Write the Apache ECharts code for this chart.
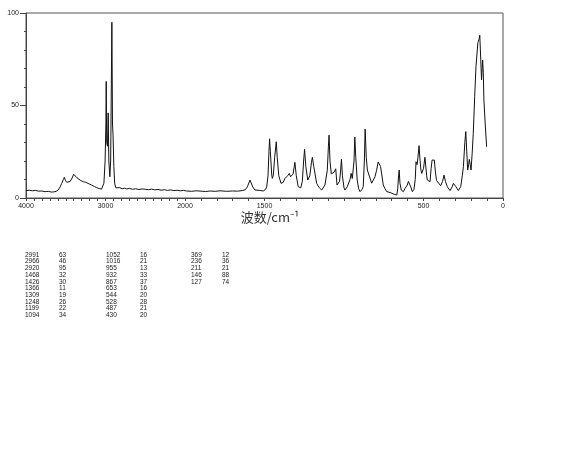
<!DOCTYPE html>
<html>
<head>
<meta charset="utf-8">
<script src="https://cdn.jsdelivr.net/npm/echarts@6/dist/echarts.min.js"></script>
<style>
  html, body { margin: 0; padding: 0; background: #fff; }
  #chart { width: 570px; height: 475px; }
</style>
</head>
<body>
<div id="chart"></div>
<script>
// spectrum: wavenumber (cm-1) and relative intensity
const specWn = [
  4000, 3960, 3920, 3880, 3840, 3800, 3760, 3720, 3680, 3650, 3620, 3594, 3570, 3551, 3530, 3518,
  3505, 3488, 3466, 3446, 3420, 3400, 3392, 3375, 3360, 3342, 3310, 3279, 3250, 3236, 3205, 3174,
  3140, 3111, 3080, 3050, 3035, 3020, 3005, 2995, 2991, 2985, 2975, 2966, 2958, 2945, 2935, 2920,
  2912, 2905, 2895, 2885, 2870, 2850, 2820, 2790, 2760, 2733, 2700, 2660, 2620, 2580, 2540, 2500,
  2460, 2420, 2380, 2340, 2300, 2260, 2220, 2180, 2140, 2100, 2060, 2020, 1990, 1960, 1930, 1900,
  1870, 1843, 1810, 1780, 1738, 1700, 1670, 1640, 1620, 1608, 1591, 1574, 1560, 1549, 1530, 1508,
  1495, 1486, 1478, 1472, 1468, 1463, 1455, 1451, 1445, 1436, 1426, 1420, 1410, 1396, 1382, 1372,
  1366, 1355, 1344, 1336, 1329, 1320, 1309, 1300, 1288, 1272, 1262, 1254, 1248, 1240, 1228, 1215,
  1205, 1199, 1190, 1172, 1155, 1140, 1120, 1105, 1098, 1094, 1088, 1080, 1072, 1062, 1052, 1044,
  1035, 1028, 1022, 1016, 1010, 1000, 994, 980, 973, 962, 955, 948, 942, 937, 932, 926,
  917, 908, 899, 888, 879, 872, 867, 860, 853, 841, 826, 815, 805, 795, 785, 778,
  770, 763, 753, 742, 732, 721, 705, 690, 679, 668, 662, 657, 653, 648, 640, 627,
  616, 602, 595, 589, 580, 570, 560, 552, 547, 540, 535, 528, 522, 516, 511, 500,
  491, 487, 480, 476, 468, 459, 452, 446, 432, 425, 418, 407, 392, 380, 371, 362,
  350, 333, 320, 312, 303, 296, 281, 266, 256, 249, 240, 234, 228, 222, 216, 212,
  206, 201, 194, 187, 178, 170, 158, 150, 146, 140, 135, 131, 128, 124, 120, 112,
  103
];
const specInt = [
  4.0, 4.2, 3.9, 4.1, 3.7, 3.8, 3.4, 3.6, 3.2, 3.3, 3.6, 4.4, 6.0, 7.9, 10.0, 11.2,
  9.6, 8.5, 8.6, 8.9, 10.8, 12.8, 13.3, 12.0, 11.0, 10.1, 9.4, 8.8, 8.5, 8.3, 7.6, 7.0,
  6.2, 5.6, 5.1, 4.8, 5.5, 8.0, 20, 40, 63, 30, 28, 46, 20, 11.5, 20, 95,
  40, 34, 17, 8, 5.5, 5.2, 5.6, 5.0, 5.3, 4.9, 5.2, 4.7, 5.0, 4.6, 4.9, 4.7,
  4.5, 4.8, 4.4, 4.6, 4.2, 4.5, 4.1, 4.4, 4.0, 4.2, 3.9, 4.1, 3.8, 3.6, 3.9, 3.7,
  3.5, 3.8, 3.6, 3.9, 3.6, 3.8, 3.7, 4.0, 4.5, 6.0, 9.7, 6.0, 4.3, 4.0, 4.1, 3.8,
  4.5, 6.0, 12, 25, 32, 25, 13, 10.6, 12, 22, 30.4, 22, 12, 7.9, 8.5, 10.5,
  11.2, 12, 13.3, 11.5, 10.6, 13, 19.3, 12, 6.1, 5.5, 9, 20, 26.3, 17, 9.7, 12,
  19, 22, 17, 7.9, 5.5, 4.3, 7.0, 15, 28, 34, 20, 13, 12.4, 14, 15.8, 7,
  6.5, 9, 14, 21, 12, 5.5, 4.3, 6, 7, 10, 13.3, 10.5, 9.7, 20, 33, 22,
  9.7, 5, 3.4, 4.5, 6.1, 20, 37.3, 22, 15.1, 15, 8, 9, 11.5, 15, 19.5, 20.5,
  17, 13, 7, 5, 3.5, 3.6, 2.8, 2.2, 1.5, 1.6, 5, 12, 15.1, 8, 4.3, 3.4,
  5.2, 7, 9, 9.4, 6, 3.4, 4.7, 10, 19.6, 18, 22, 28.3, 20.5, 15, 13.3, 16,
  22, 22, 12, 9.7, 8.8, 8.8, 16, 20.5, 20.5, 14, 9.5, 8.8, 6.6, 9, 12.4, 9,
  6.1, 4, 6, 7.9, 7, 6.1, 4, 6.1, 12, 17, 30, 35.9, 25, 15.1, 18, 20.9,
  18, 15.1, 24, 35, 55, 71, 84, 86, 88, 75, 63.8, 70, 74.6, 68, 53, 40,
  27.7
];

// peak table printed under the chart
const peakWn = [2991, 2966, 2920, 1468, 1426, 1366, 1309, 1248, 1199, 1094,
  1052, 1016, 955, 932, 867, 653, 544, 528, 487, 430,
  369, 236, 211, 146, 127];
const peakInt = [63, 46, 95, 32, 30, 11, 19, 26, 22, 34,
  16, 21, 13, 33, 37, 16, 20, 28, 21, 20,
  12, 36, 21, 88, 74];

const xTickLabels = [4000, 3000, 2000, 1500, 500, 0];
const yTickLabels = [0, 50, 100];

// the x scale is twice as wide below 2000 cm-1
function toU (w) {
  return w >= 2000 ? (4000 - w) / 2 : 3000 - w;
}
function toWn (u) {
  return u <= 1000 ? 4000 - 2 * u : 3000 - u;
}

const minorTicks = [];
for (let w = 4000; w >= 0; w -= 100) minorTicks.push(toU(w));

const labelFont = 'Liberation Sans';
const graphic = [];
const colWn = [25, 106, 191];
const colInt = [59, 140, 222];
for (let i = 0; i < peakWn.length; i++) {
  const g = Math.floor(i / 10);
  const r = i % 10;
  const y = 255 + r * 6.7;
  graphic.push({
    type: 'text', x: colWn[g], y: y,
    style: { text: String(peakWn[i]), fill: '#222', font: '6.5px ' + labelFont, verticalAlign: 'middle' }
  });
  graphic.push({
    type: 'text', x: colInt[g], y: y,
    style: { text: String(peakInt[i]), fill: '#222', font: '6.5px ' + labelFont, verticalAlign: 'middle' }
  });
}

const chart = echarts.init(document.getElementById('chart'));
chart.setOption({
  animation: false,
  grid: {
    left: 26, right: 67, top: 13, bottom: 277,
    show: true, borderColor: '#555', borderWidth: 1
  },
  xAxis: {
    type: 'value',
    min: 0,
    max: 3000,
    name: '波数/cm⁻¹',
    nameLocation: 'middle',
    nameGap: 11,
    nameTextStyle: {
      fontFamily: 'Noto Sans CJK SC',
      fontSize: 13,
      color: '#333',
      padding: [0, 0, 0, 11]
    },
    axisLine: { lineStyle: { color: '#444', width: 1 } },
    axisTick: {
      show: true,
      customValues: minorTicks,
      length: 3,
      lineStyle: { color: '#444' }
    },
    axisLabel: {
      customValues: xTickLabels.map(toU),
      formatter: function (u) { return String(Math.round(toWn(u))); },
      fontSize: 7,
      fontFamily: labelFont,
      color: '#222',
      margin: 5
    },
    splitLine: { show: false }
  },
  yAxis: {
    type: 'value',
    min: 0,
    max: 100,
    interval: 50,
    axisLine: { show: true, lineStyle: { color: '#444', width: 1 } },
    axisTick: { show: true, length: 6, lineStyle: { color: '#444' } },
    minorTick: { show: true, splitNumber: 5, length: 2, lineStyle: { color: '#444' } },
    axisLabel: {
      customValues: yTickLabels,
      fontSize: 7,
      fontFamily: labelFont,
      color: '#222',
      margin: 7
    },
    splitLine: { show: false }
  },
  series: [{
    type: 'line',
    data: specWn.map(function (w, i) { return [toU(w), specInt[i]]; }),
    showSymbol: false,
    symbol: 'none',
    lineStyle: { color: '#111', width: 1 }
  }],
  graphic: graphic
});
</script>
</body>
</html>
